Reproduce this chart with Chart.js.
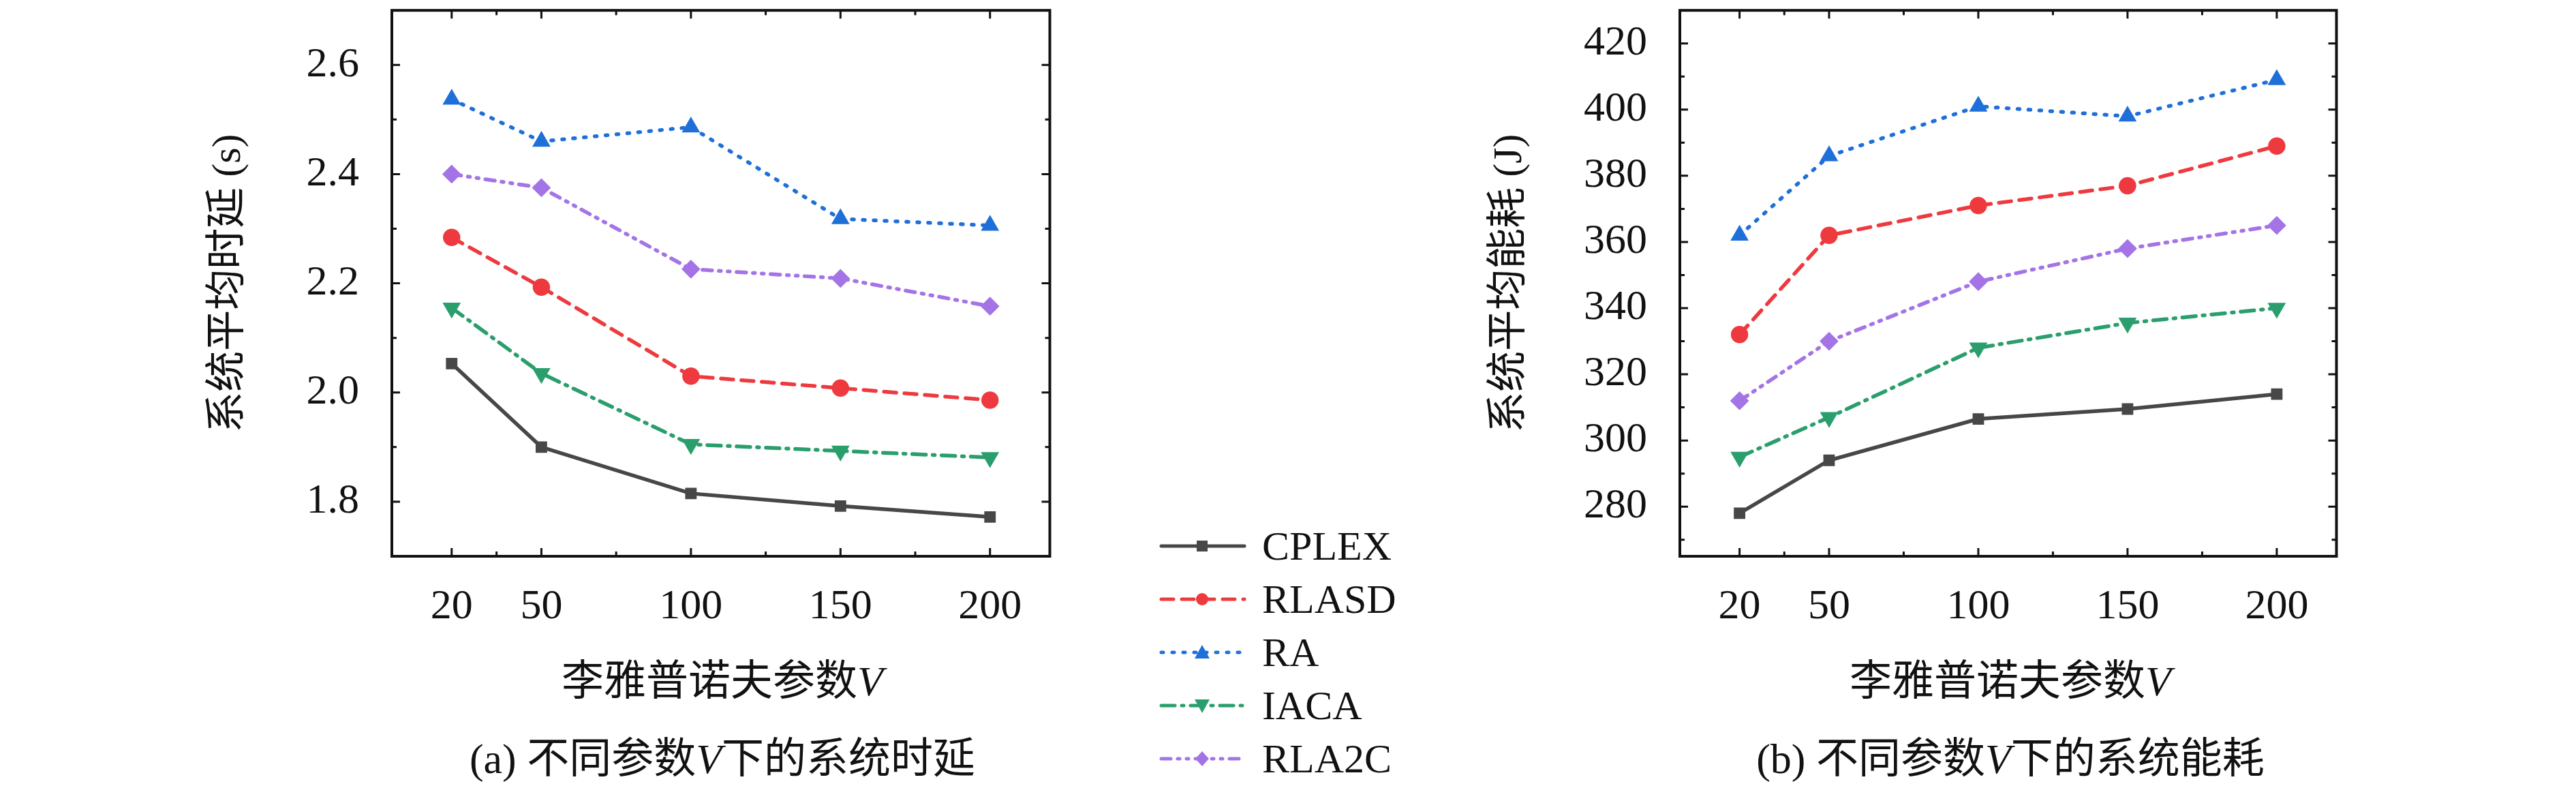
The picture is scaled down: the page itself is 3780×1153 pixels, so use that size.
<!DOCTYPE html>
<html>
<head>
<meta charset="utf-8">
<script src="https://cdn.jsdelivr.net/npm/chart.js@4"></script>
<style>
  body { margin: 0; width: 3780px; height: 1153px; background: #fff; position: relative; overflow: hidden;
         font-family: "Liberation Serif", "Noto Sans CJK SC", serif; color: #111; }
  canvas { position: absolute; }
  .lbl { position: absolute; font-size: 62px; white-space: nowrap; transform: translate(-50%, -50%); }
  .leg { position: absolute; left: 1700px; font-size: 60px; }
  .leg div { height: 78px; display: flex; align-items: center; }
  .leg svg { margin-right: 22px; }
</style>
</head>
<body>
<canvas id="delay" style="left:300px;top:-62px"></canvas>
<canvas id="energy" style="left:2180px;top:-62px"></canvas>

<div class="lbl" style="left:1060px;top:993px">李雅普诺夫参数<i>V</i></div>
<div class="lbl" style="left:1060px;top:1107px">(a) 不同参数<i>V</i>下的系统时延</div>
<div class="lbl" style="left:2950px;top:993px">李雅普诺夫参数<i>V</i></div>
<div class="lbl" style="left:2950px;top:1107px">(b) 不同参数<i>V</i>下的系统能耗</div>

<div class="leg" id="legend" style="top:762px"></div>

<script>
// x values (Lyapunov parameter V)
const vValues = [20, 50, 100, 150, 200];
const seriesNames = ['CPLEX', 'RLASD', 'RA', 'IACA', 'RLA2C'];

// average delay (s)
const delayCPLEX = [2.053, 1.900, 1.815, 1.792, 1.772];
const delayRLASD = [2.284, 2.193, 2.030, 2.008, 1.986];
const delayRA    = [2.537, 2.460, 2.486, 2.318, 2.306];
const delayIACA  = [2.155, 2.035, 1.905, 1.893, 1.881];
const delayRLA2C = [2.400, 2.375, 2.226, 2.209, 2.158];

// average energy (J)
const energyCPLEX = [278, 294, 306.5, 309.5, 314];
const energyRLASD = [332, 362, 371, 377, 389];
const energyRA    = [362, 386, 401, 398, 409];
const energyIACA  = [295, 307, 328, 335.5, 340];
const energyRLA2C = [312, 330, 348, 358, 365];

const delayTicks = [1.8, 2.0, 2.2, 2.4, 2.6];
const energyTicks = [280, 300, 320, 340, 360, 380, 400, 420];

const styles = [
  { color: '#474747', dash: [], point: 'rect', rot: 0 },
  { color: '#ee3a3f', dash: [18, 12], point: 'circle', rot: 0 },
  { color: '#1f6fd8', dash: [3, 13], point: 'triangle', rot: 0 },
  { color: '#2a9e6c', dash: [20, 10, 3, 10], point: 'triangle', rot: 180 },
  { color: '#a474e6', dash: [14, 10, 3, 10, 3, 10], point: 'rectRot', rot: 0 }
];

function makeSets(arrs) {
  return arrs.map((a, i) => ({
    label: seriesNames[i],
    data: a.map((y, j) => ({ x: vValues[j], y: y })),
    borderColor: styles[i].color,
    backgroundColor: styles[i].color,
    borderWidth: 5.5,
    borderDash: styles[i].dash,
    borderCapStyle: 'round',
    pointStyle: styles[i].point,
    pointRotation: styles[i].rot,
    pointRadius: i == 0 ? 8 : 10,
    tension: 0
  }));
}

// frame + inward ticks
const framePlugin = {
  id: 'frame',
  afterDraw(chart, args, opts) {
    const c = chart.ctx, a = chart.chartArea;
    const xs = chart.scales.x, ys = chart.scales.y;
    c.save();
    c.strokeStyle = '#111';
    c.lineWidth = 4;
    c.strokeRect(a.left, a.top, a.right - a.left, a.bottom - a.top);
    c.lineWidth = 3;
    const tick = (v, len, isX) => {
      if (isX) {
        const p = xs.getPixelForValue(v);
        c.beginPath(); c.moveTo(p, a.bottom); c.lineTo(p, a.bottom - len);
        c.moveTo(p, a.top); c.lineTo(p, a.top + len); c.stroke();
      } else {
        const p = ys.getPixelForValue(v);
        c.beginPath(); c.moveTo(a.left, p); c.lineTo(a.left + len, p);
        c.moveTo(a.right, p); c.lineTo(a.right - len, p); c.stroke();
      }
    };
    vValues.forEach(v => tick(v, 12, true));
    [35, 75, 125, 175].forEach(v => tick(v, 7, true));
    opts.major.forEach(v => tick(v, 12, false));
    opts.minor.forEach(v => tick(v, 7, false));
    c.restore();
  }
};

function makeChart(id, w, arrs, yMin, yMax, yTicks, yMinor, yTitle, fmt) {
  const cv = document.getElementById(id);
  cv.width = w; cv.height = 992;
  cv.style.width = w + 'px'; cv.style.height = '992px';
  return new Chart(cv, {
    type: 'line',
    data: { datasets: makeSets(arrs) },
    plugins: [framePlugin],
    options: {
      responsive: false,
      animation: false,
      devicePixelRatio: 1,
      layout: { padding: { top: 10, right: 10 } },
      plugins: {
        legend: { display: false },
        tooltip: { enabled: false },
        frame: { major: yTicks, minor: yMinor }
      },
      scales: {
        x: {
          type: 'linear', min: 0, max: 220,
          afterBuildTicks: s => { s.ticks = vValues.map(v => ({ value: v })); },
          afterFit: s => { s.height = 114; },
          grid: { display: false },
          border: { display: false },
          ticks: { color: '#111', padding: 30, maxRotation: 0,
                   font: { family: 'Liberation Serif', size: 62 } }
        },
        y: {
          min: yMin, max: yMax,
          afterBuildTicks: s => { s.ticks = yTicks.map(v => ({ value: v })); },
          afterFit: s => { s.width = id == 'delay' ? 275 : 285; },
          grid: { display: false },
          border: { display: false },
          title: { display: true, text: yTitle, color: '#111', padding: 0,
                   font: { family: 'Liberation Serif, Noto Sans CJK SC', size: 60 } },
          ticks: { color: '#111', padding: 40, callback: fmt,
                   font: { family: 'Liberation Serif', size: 62 } }
        }
      }
    }
  });
}

makeChart('delay', 1256,
  [delayCPLEX, delayRLASD, delayRA, delayIACA, delayRLA2C],
  1.7, 2.7, delayTicks, [1.9, 2.1, 2.3, 2.5],
  '系统平均时延 (s)', v => v.toFixed(1));

makeChart('energy', 1264,
  [energyCPLEX, energyRLASD, energyRA, energyIACA, energyRLA2C],
  265, 430, energyTicks, [270, 290, 310, 330, 350, 370, 390, 410],
  '系统平均能耗 (J)', v => String(v));

// legend
const leg = document.getElementById('legend');
const markers = [
  '<rect x="56" y="31" width="16" height="16" fill="C"/>',
  '<circle cx="64" cy="39" r="9" fill="C"/>',
  '<polygon points="64,28 75,48 53,48" fill="C"/>',
  '<polygon points="64,50 75,30 53,30" fill="C"/>',
  '<polygon points="64,28 74,39 64,50 54,39" fill="C"/>'
];
seriesNames.forEach((n, i) => {
  const s = styles[i];
  const d = s.dash.length ? `stroke-dasharray="${s.dash.join(' ')}"` : '';
  leg.insertAdjacentHTML('beforeend',
    `<div><svg width="130" height="78"><line x1="4" y1="39" x2="126" y2="39" stroke="${s.color}" stroke-width="5" stroke-linecap="round" ${d}/>${markers[i].replace('C', s.color)}</svg>${n}</div>`);
});
</script>
</body>
</html>
